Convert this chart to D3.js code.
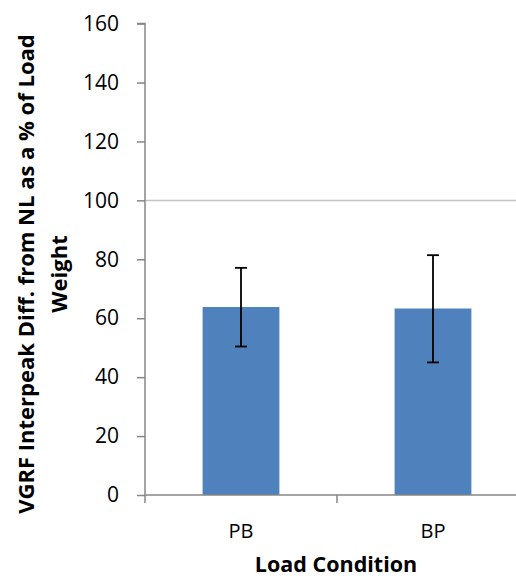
<!DOCTYPE html>
<html><head><meta charset="utf-8">
<script src="https://cdn.jsdelivr.net/npm/d3@7"></script>
<style>body{margin:0;background:#fff}svg{display:block}</style>
</head><body>
<svg id="c" width="516" height="579"></svg>
<script>
const categories = ["PB", "BP"];
const values = [63.8, 63.3];
const errLow = [50.4, 45.0];
const errHigh = [77.1, 81.4];
const yTicks = [0, 20, 40, 60, 80, 100, 120, 140, 160];
const refLine = [100];
const yTitle = ["VGRF Interpeak Diff. from NL as a % of Load", "Weight"];
const xTitle = "Load Condition";

(function () {
const svg = d3.select("#c");
const font = "'Open Sans', 'Liberation Sans', sans-serif";
const pL = 145, pR = 529, pT = 23.6, pB = 495;
const y = d3.scaleLinear().domain([0, 160]).range([pB, pT]);
const x = d3.scaleBand().domain(categories).range([pL, pR]);
const axisCol = "#868686";

svg.selectAll(".ref").data(refLine).enter().append("line")
  .attr("x1", pL).attr("x2", pR).attr("y1", d => y(d)).attr("y2", d => y(d))
  .attr("stroke", "#c4c4c4").attr("stroke-width", 1.5);

const bw = x.bandwidth() * 0.4;
svg.selectAll(".bar").data(categories).enter().append("rect")
  .attr("x", d => x(d) + x.bandwidth() / 2 - bw / 2)
  .attr("width", bw)
  .attr("y", (d, i) => y(values[i]))
  .attr("height", (d, i) => y(0) - y(values[i]))
  .attr("fill", "#4f81bd");

const yAxis = d3.axisLeft(y).tickValues(yTicks).tickSize(8).tickPadding(18);
const gy = svg.append("g").attr("transform", `translate(${pL},0)`).call(yAxis);
gy.select(".domain").attr("stroke", axisCol).attr("stroke-width", 1.5).attr("d", `M-8,${pT}H0V${pB + 8}`);
gy.selectAll(".tick line").attr("stroke", axisCol).attr("stroke-width", 1.5);
gy.selectAll(".tick text").attr("font-family", font).attr("font-size", 21).attr("fill", "#000");

const xAxis = d3.axisBottom(x).tickSize(0).tickPadding(29);
const gx = svg.append("g").attr("transform", `translate(0,${pB})`).call(xAxis);
gx.select(".domain").attr("stroke", axisCol).attr("stroke-width", 1.5).attr("d", `M${pL},0H${pR}`);
gx.selectAll(".tick text").attr("font-family", font).attr("font-size", 20).attr("fill", "#000");
svg.selectAll(".bt").data(categories.slice(1)).enter().append("line")
  .attr("x1", d => x(d)).attr("x2", d => x(d)).attr("y1", pB).attr("y2", pB + 8)
  .attr("stroke", axisCol).attr("stroke-width", 1.5);

const eb = svg.append("g").attr("stroke", "#000").attr("stroke-width", 1.8);
categories.forEach((c, i) => {
  const cx = x(c) + x.bandwidth() / 2;
  eb.append("line").attr("x1", cx).attr("x2", cx).attr("y1", y(errLow[i])).attr("y2", y(errHigh[i]));
  [errLow[i], errHigh[i]].forEach(v => {
    eb.append("line").attr("x1", cx - 6).attr("x2", cx + 6).attr("y1", y(v)).attr("y2", y(v));
  });
});

svg.append("text").attr("x", 336).attr("y", 572).attr("text-anchor", "middle")
  .attr("font-family", font).attr("font-weight", "bold").attr("font-size", 21.5).text(xTitle);
const yt = svg.append("text").attr("transform", "translate(0,274) rotate(-90)")
  .attr("text-anchor", "middle").attr("font-family", font).attr("font-weight", "bold").attr("font-size", 22);
yt.append("tspan").attr("x", 0).attr("y", 34).text(yTitle[0]);
yt.append("tspan").attr("x", 0).attr("y", 67).text(yTitle[1]);
})();
</script>
</body></html>
